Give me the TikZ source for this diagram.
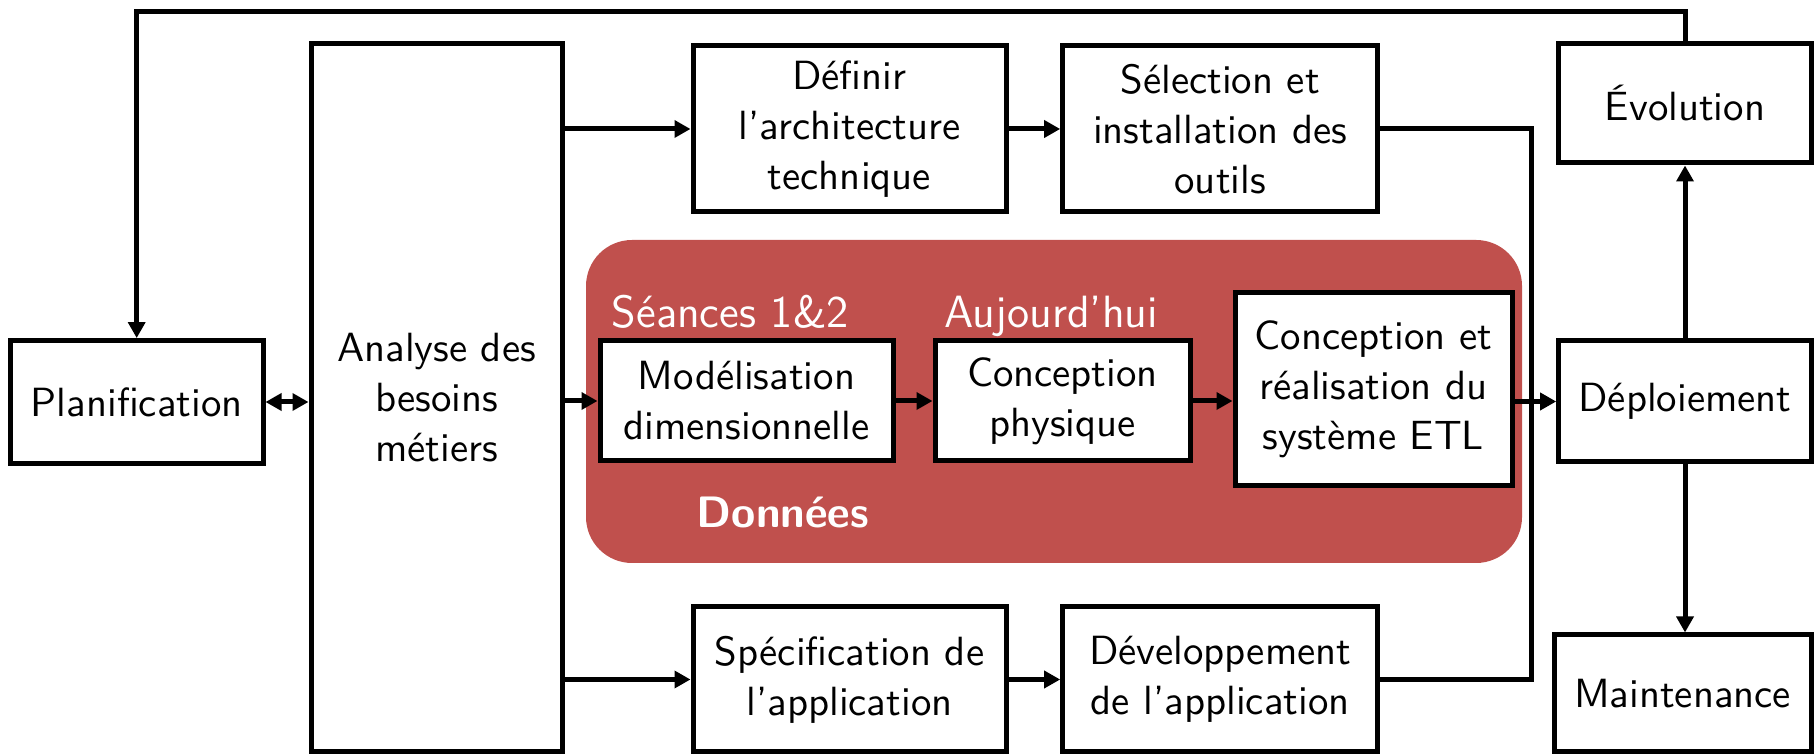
\documentclass[tikz,border=0pt]{standalone}
\usepackage{fontspec}
\usetikzlibrary{arrows.meta}
\definecolor{donnees}{HTML}{C0504D}
\begin{document}
\begin{tikzpicture}[x=0.25pt,y=-0.25pt,
  box/.style={draw, line width=1.25pt, fill=white, align=center, inner sep=0pt,
    font=\sffamily\fontsize{10.2}{12.5}\selectfont},
  lab/.style={text=white, font=\sffamily\fontsize{11.3}{13}\selectfont, inner sep=0pt},
  conn/.style={line width=1.25pt},
  arr/.style={conn, -{Triangle[length=4pt,width=4.2pt]}},
  arrb/.style={conn, {Triangle[length=4pt,width=4.2pt]}-{Triangle[length=4pt,width=4.2pt]}}]
\useasboundingbox (0,0) rectangle (1817,756);
% red zone
\fill[donnees, rounded corners=11.5pt] (586,240) rectangle (1522,563);
% boxes
\node[box, minimum width=63.15pt, minimum height=30.7pt] (plan) at (136.7,402) {Planification};
\node[box, minimum width=62.75pt, minimum height=177pt] (ana) at (436.5,398) {Analyse des\\besoins\\métiers};
\node[box, minimum width=78.25pt, minimum height=41.5pt] (def) at (849.5,129) {Définir\\l’architecture\\technique};
\node[box, minimum width=78.75pt, minimum height=41.5pt] (sel) at (1220.2,129) {Sélection et\\installation des\\outils};
\node[box, minimum width=78.25pt, minimum height=36.25pt] (spec) at (849.5,679.5) {Spécification de\\l’application};
\node[box, minimum width=78.75pt, minimum height=36.25pt] (dev) at (1220.2,679.5) {Développement\\de l’application};
\node[box, minimum width=73.25pt, minimum height=30pt] (mod) at (746.5,401) {Modélisation\\dimensionnelle};
\node[box, minimum width=63.75pt, minimum height=30pt] (phys) at (1062.5,401) {Conception\\physique};
\node[box, minimum width=69.25pt, minimum height=48.25pt] (etl) at (1373.5,389.5) {Conception et\\réalisation du\\système ETL};
\node[box, minimum width=63.15pt, minimum height=29.75pt] (evo) at (1685,103.5) {Évolution};
\node[box, minimum width=63.15pt, minimum height=30.25pt] (dep) at (1685,401.5) {Déploiement};
\node[box, minimum width=64.25pt, minimum height=29.25pt] (maint) at (1682.5,693.5) {Maintenance};
% labels
\node[lab, anchor=base west] (s12) at (611,328) {Séances 1\&2};
\node[lab, anchor=base west] (auj) at (944,328) {Aujourd’hui};
\node[lab, anchor=base, font=\sffamily\bfseries\fontsize{11}{13}\selectfont] (don) at (783,528) {Données};
% coordinates
\coordinate (top) at (0,11.6);
\coordinate (bus) at (1531,400);
% connectors
\draw[arr] (evo.north) -- (evo.north |- top) -| (plan.north);
\draw[arrb] (plan.east) -- (plan.east -| ana.west);
\draw[arr] (ana.east |- def.west) -- (def.west);
\draw[arr] (def.east) -- (sel.west);
\draw[arr] (ana.east |- spec.west) -- (spec.west);
\draw[arr] (spec.east) -- (dev.west);
\draw[arr] (ana.east |- mod.west) -- (mod.west);
\draw[arr] (mod.east) -- (phys.west);
\draw[arr] (phys.east) -- (phys.east -| etl.west);
\draw[conn] (sel.east) -| (bus) |- (dev.east);
\draw[arr] (dep.west -| etl.east) -- (dep.west);
\draw[arr] (dep.north) -- (evo.south);
\draw[arr] (dep.south) -- (dep.south |- maint.north);
\end{tikzpicture}
\end{document}
